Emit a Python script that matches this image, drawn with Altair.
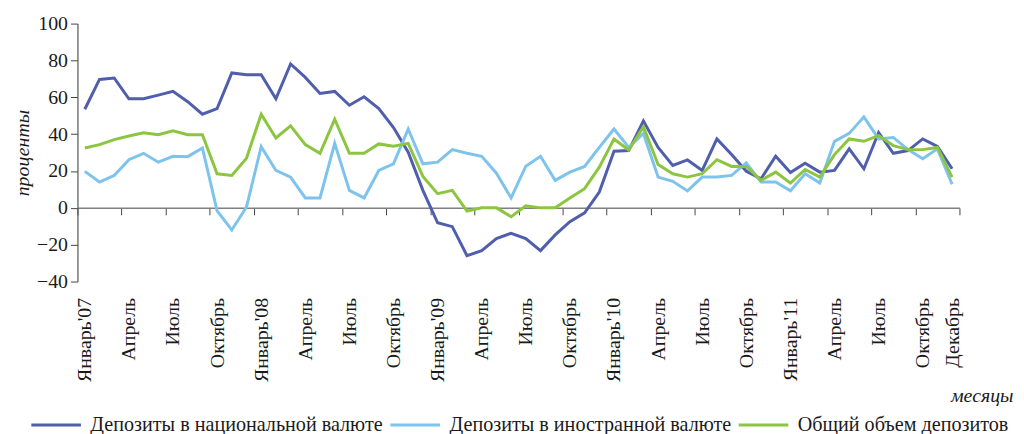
import json
import altair as alt
import pandas as pd

# ---- data ----
SERIES = ["Депозиты в национальной валюте", "Депозиты в иностранной валюте", "Общий объем депозитов"]
COLORS = ["#4F5EAD", "#7EC3EC", "#8CC540"]

NATIONAL = [53.5, 69.7, 70.5, 59.2, 59.2, 61.2, 63.2, 57.6, 50.8, 53.9,
            73.2, 72.2, 72.2, 59.2, 78.1, 70.8, 62.1, 63.2, 55.7, 60.3,
            53.9, 43.6, 30.2, 9.5, -8.1, -10.2, -26.0, -23.2, -16.7, -13.8,
            -16.7, -23.2, -14.7, -7.5, -2.7, 8.6, 30.7, 31.1, 47.2, 32.8,
            23.0, 26.0, 20.3, 37.4, 28.9, 19.9, 15.8, 28.0, 19.2, 24.2,
            19.4, 20.3, 32.0, 21.2, 40.9, 29.6, 31.1, 37.4, 33.4, 21.2]
FOREIGN = [19.8, 14.0, 17.6, 26.1, 29.6, 24.8, 28.0, 27.8, 32.5, -1.6,
           -12.0, 0.5, 33.2, 20.3, 16.7, 5.4, 5.4, 35.0, 9.5, 5.4,
           20.3, 23.9, 42.8, 23.9, 24.8, 31.6, 29.6, 28.0, 18.8, 5.4,
           22.6, 28.0, 14.9, 19.4, 22.5, 32.8, 42.8, 32.8, 40.4, 16.7,
           14.4, 9.2, 16.7, 16.7, 17.6, 24.4, 14.0, 14.0, 9.2, 18.5,
           13.5, 36.1, 40.4, 49.4, 37.4, 38.2, 31.6, 26.6, 32.0, 12.8]
TOTAL = [32.5, 34.3, 37.0, 39.0, 40.8, 39.7, 41.8, 39.7, 39.7, 18.5,
         17.6, 26.9, 50.8, 37.9, 44.5, 34.3, 29.6, 48.1, 29.6, 29.6,
         34.7, 33.4, 35.0, 17.1, 7.7, 9.5, -1.8, 0.0, 0.0, -4.8,
         1.1, 0.0, 0.0, 5.4, 10.4, 22.1, 37.4, 31.4, 44.0, 23.5,
         18.5, 16.7, 18.5, 26.1, 22.5, 22.5, 14.9, 19.4, 13.5, 20.8,
         16.7, 28.9, 37.4, 36.1, 39.2, 33.8, 31.6, 31.6, 32.8, 16.7]

TICK_LABELS = ["Январь'07", "Апрель", "Июль", "Октябрь",
               "Январь'08", "Апрель", "Июль", "Октябрь",
               "Январь'09", "Апрель", "Июль", "Октябрь",
               "Январь'10", "Апрель", "Июль", "Октябрь",
               "Январь'11", "Апрель", "Июль", "Октябрь", "Декабрь"]
TICK_MONTHS = [0, 3, 6, 9, 12, 15, 18, 21, 24, 27, 30, 33, 36, 39, 42, 45, 48, 51, 54, 57, 59]
BOUNDARY_TICKS = [-0.5 + 3 * k for k in range(21)]
Y_TICKS = [-40, -20, 0, 20, 40, 60, 80, 100]

rows = []
for name, vals in zip(SERIES, [NATIONAL, FOREIGN, TOTAL]):
    for i, v in enumerate(vals):
        rows.append({"m": i, "v": v, "s": name})
df = pd.DataFrame(rows)

FONT = "Liberation Serif"
W, H = 889, 260
zero_offset = -H * 40 / 140

xs = alt.Scale(domain=[-0.5, 59.5], nice=False, zero=False)
label_expr = "{}[indexof({}, datum.value)]".format(
    json.dumps(TICK_LABELS, ensure_ascii=False), json.dumps(TICK_MONTHS))

lines = alt.Chart(df).mark_line(strokeWidth=3).encode(
    x=alt.X("m:Q", scale=xs, axis=alt.Axis(
        orient="bottom", values=TICK_MONTHS, labelExpr=label_expr, labelAngle=-90,
        ticks=False, tickSize=0, domain=False, grid=False, labelPadding=16,
        labelFlush=False, labelOverlap=False, labelFont=FONT, labelFontSize=20,
        labelColor="#1a1a1a",
        title="месяцы", titleFont=FONT, titleFontSize=20, titleFontStyle="italic",
        titleFontWeight="normal", titleColor="#1a1a1a", titleX=943, titleY=121,
        titleAlign="right", titleBaseline="alphabetic")),
    y=alt.Y("v:Q", scale=alt.Scale(domain=[-40, 100], nice=False), axis=alt.Axis(
        values=Y_TICKS, grid=False, tickSize=7, tickColor="#444444",
        domainColor="#555555", domainWidth=1.2, labelFont=FONT, labelFontSize=20,
        labelColor="#1a1a1a", labelPadding=3,
        title="проценты", titleFont=FONT, titleFontSize=20, titleFontStyle="italic",
        titleFontWeight="normal", titleColor="#1a1a1a", titlePadding=4)),
    color=alt.Color("s:N", scale=alt.Scale(domain=SERIES, range=COLORS), legend=alt.Legend(
        orient="none", legendX=-48, legendY=378, direction="horizontal", columns=3,
        symbolType="stroke", symbolSize=2500, symbolStrokeWidth=3, labelFont=FONT,
        labelFontSize=20.3, labelColor="#1a1a1a", labelOffset=8, columnPadding=1,
        labelLimit=0, padding=0, title=None)),
)

zero_axis = alt.Chart(df).mark_point(opacity=0).encode(
    x=alt.X("m:Q", scale=xs, axis=alt.Axis(
        orient="bottom", offset=zero_offset, values=BOUNDARY_TICKS, labels=False,
        tickSize=7, tickColor="#444444", domainColor="#808080", domainWidth=1.5,
        grid=False, title=None)),
)

chart = alt.layer(lines, zero_axis).resolve_axis(x="independent").properties(
    width=W, height=H,
    autosize=alt.AutoSizeParams(type="none"),
    padding={"left": 70, "top": 14, "right": 57, "bottom": 160},
).configure_view(stroke=None)

chart.save("out.html", embed_options={"renderer": "svg", "actions": False})
